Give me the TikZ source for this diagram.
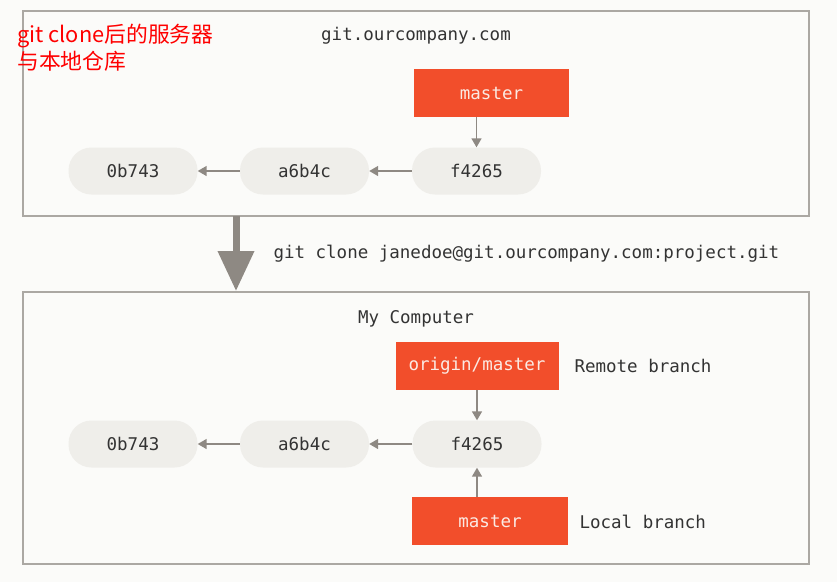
\documentclass[tikz,border=0pt]{standalone}
\usepackage{fontspec}
\setmonofont{DejaVu Sans Mono}
\newfontfamily\cjk{Noto Sans CJK SC}
\usetikzlibrary{arrows.meta,positioning}
\definecolor{pagebg}{HTML}{FBFBF9}
\definecolor{framegray}{HTML}{ABA8A3}
\definecolor{commitfill}{HTML}{EFEEEA}
\definecolor{gitred}{HTML}{F24E2B}
\definecolor{reftext}{HTML}{FBEAE3}
\definecolor{arrowgray}{HTML}{8E8983}
\definecolor{ink}{HTML}{333333}

\tikzset{
  mono/.style={font=\fontsize{17.5}{21}\selectfont\ttfamily, text=ink},
  repo/.style={draw=framegray, line width=2pt, minimum width=786pt},
  commit/.style={mono, fill=commitfill, rounded corners=23pt, minimum width=129pt, minimum height=47pt},
  ref/.style={mono, fill=gitred, text=reftext, minimum height=48pt},
  link/.style={draw=arrowgray, line width=1.5pt, -{Triangle[length=9pt,width=10pt]}},
  clone/.style={draw=arrowgray, line width=7pt, -{Triangle[length=40pt,width=35pt]}}
}

\begin{document}
\begin{tikzpicture}[x=1pt, y=-1pt]
\useasboundingbox[fill=pagebg] (0,0) rectangle (837,582);
\node[repo, minimum height=205pt] (server) at (416,113.5) {};
\node[repo, minimum height=272pt] (computer) at (416,428) {};
% server
\node[mono] (srvtitle) at (416,35.5) {git.ourcompany.com};
\node[ref, minimum width=155pt] (srvmaster) at (491.5,93) {master};
\node[commit] (srv0) at (133,171) {0b743};
\node[commit] (srva) at (304.5,171) {a6b4c};
\node[commit] (srvf) at (476.5,171) {f4265};
\draw[link] (srva) -- (srv0);
\draw[link] (srvf) -- (srva);
\draw[link] (srvmaster.south -| srvf) -- (srvf);
% clone
\coordinate (clonetop) at (236,216);
\coordinate (clonebot) at (236,291);
\draw[clone] (clonetop) -- (clonebot);
\node[mono, anchor=west] (clonecmd) at (270,253.5) {git clone janedoe@git.ourcompany.com:project.git};
% my computer
\node[mono] (loctitle) at (416,318.5) {My Computer};
\node[ref, minimum width=163pt] (origin) at (477,366) {origin/master};
\node[mono, anchor=west] (remotelbl) at (571,366) {Remote branch};
\node[commit] (loc0) at (133,444) {0b743};
\node[commit] (loca) at (304.5,444) {a6b4c};
\node[commit] (locf) at (477,444) {f4265};
\node[ref, minimum width=156pt] (locmaster) at (490,521) {master};
\node[mono, anchor=west] (locallbl) at (576,522) {Local branch};
\draw[link] (loca) -- (loc0);
\draw[link] (locf) -- (loca);
\draw[link] (origin) -- (locf);
\draw[link] (locmaster.north -| locf) -- (locf);
% note
\node[anchor=north west, inner sep=0pt, align=left, text=red,
  font=\cjk\fontsize{21.8}{27}\selectfont] (note) at (17,24) {git clone后的服务器\\与本地仓库};
\end{tikzpicture}
\end{document}
